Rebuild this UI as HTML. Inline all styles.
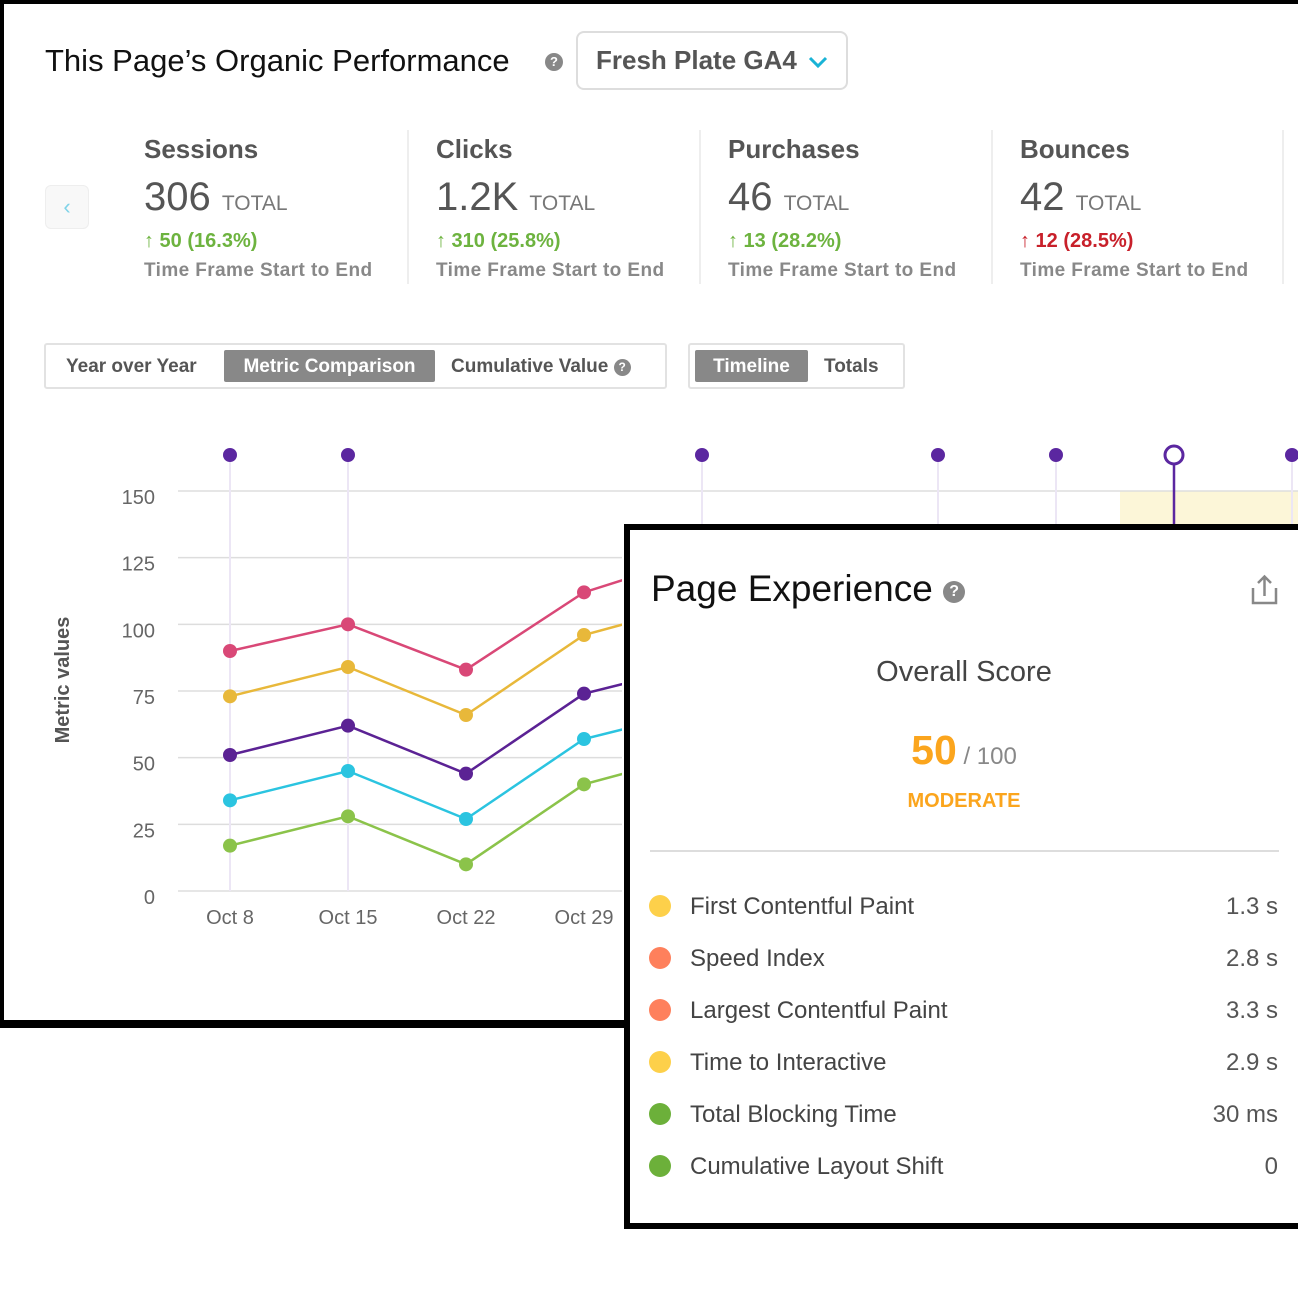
<!DOCTYPE html>
<html><head><meta charset="utf-8">
<style>
*{box-sizing:border-box;margin:0;padding:0}
body{width:1298px;height:1298px;background:#fff;position:relative;overflow:hidden;font-family:"Liberation Sans",sans-serif}
.abs{position:absolute;white-space:nowrap}
.kpi-title{font-size:26px;font-weight:bold;color:#555}
.kpi-num{font-size:40px;color:#555}
.kpi-num span{font-size:21px;color:#777}
.kpi-delta{font-size:20px;font-weight:bold;color:#6db33f}
.kpi-sub{font-size:19px;font-weight:bold;color:#888;letter-spacing:0.4px}
.sep{position:absolute;top:130px;width:2px;height:154px;background:#eee}
.row-label{font-size:24px;color:#444}
.row-val{font-size:24px;color:#555;text-align:right}
.dot{position:absolute;width:22px;height:22px;border-radius:50%}
</style></head><body>
<div class="abs" style="left:0;top:0;width:1310px;height:1028px;border:4px solid #000;border-bottom-width:8px;border-right:none"></div>

<div class="abs" style="left:45px;top:43px;font-size:31px;color:#111">This Page’s Organic Performance</div>
<div class="abs" style="left:545px;top:53px;width:18px;height:18px;border-radius:50%;background:#888;color:#fff;font-size:13px;font-weight:bold;text-align:center;line-height:18px">?</div>
<div class="abs" style="left:576px;top:31px;width:272px;height:59px;border:2px solid #ddd;border-radius:8px;font-size:26px;font-weight:bold;color:#555;padding:12px 0 0 18px">Fresh Plate GA4 <svg width="20" height="14" style="margin-left:4px"><polyline points="2,3 10,11 18,3" fill="none" stroke="#19b3d6" stroke-width="3"/></svg></div>

<div class="abs" style="left:45px;top:185px;width:44px;height:44px;border:1px solid #eee;border-radius:6px;background:#f8f8f8;color:#7fd3e8;font-size:22px;text-align:center;line-height:42px">‹</div>

<div>
<div class="abs kpi-title" style="left:144px;top:134px">Sessions</div>
<div class="abs kpi-num" style="left:144px;top:175px">306 <span>TOTAL</span></div>
<div class="abs kpi-delta" style="left:144px;top:230px">↑ 50 (16.3%)</div>
<div class="abs kpi-sub" style="left:144px;top:260px">Time Frame Start to End</div></div>
<div class="sep" style="left:407px"></div>
<div>
<div class="abs kpi-title" style="left:436px;top:134px">Clicks</div>
<div class="abs kpi-num" style="left:436px;top:175px">1.2K <span>TOTAL</span></div>
<div class="abs kpi-delta" style="left:436px;top:230px">↑ 310 (25.8%)</div>
<div class="abs kpi-sub" style="left:436px;top:260px">Time Frame Start to End</div></div>
<div class="sep" style="left:699px"></div>
<div>
<div class="abs kpi-title" style="left:728px;top:134px">Purchases</div>
<div class="abs kpi-num" style="left:728px;top:175px">46 <span>TOTAL</span></div>
<div class="abs kpi-delta" style="left:728px;top:230px">↑ 13 (28.2%)</div>
<div class="abs kpi-sub" style="left:728px;top:260px">Time Frame Start to End</div></div>
<div class="sep" style="left:991px"></div>
<div>
<div class="abs kpi-title" style="left:1020px;top:134px">Bounces</div>
<div class="abs kpi-num" style="left:1020px;top:175px">42 <span>TOTAL</span></div>
<div class="abs kpi-delta" style="left:1020px;top:230px;color:#c8202a">↑ 12 (28.5%)</div>
<div class="abs kpi-sub" style="left:1020px;top:260px">Time Frame Start to End</div></div>
<div class="sep" style="left:1282px"></div>

<div class="abs" style="left:44px;top:343px;width:623px;height:46px;border:2px solid #e2e2e2;border-radius:3px"></div>
<div class="abs" style="left:66px;top:356px;font-size:19px;font-weight:bold;color:#555">Year over Year</div>
<div class="abs" style="left:224px;top:350px;width:211px;height:32px;background:#888;border-radius:2px;color:#fff;font-size:19px;font-weight:bold;text-align:center;line-height:34px">Metric Comparison</div>
<div class="abs" style="left:451px;top:356px;font-size:19px;font-weight:bold;color:#555">Cumulative Value <span style="display:inline-block;width:17px;height:17px;border-radius:50%;background:#888;color:#fff;font-size:12px;text-align:center;line-height:17px;vertical-align:1px">?</span></div>
<div class="abs" style="left:688px;top:343px;width:217px;height:46px;border:2px solid #e2e2e2;border-radius:3px"></div>
<div class="abs" style="left:695px;top:350px;width:113px;height:32px;background:#888;border-radius:2px;color:#fff;font-size:19px;font-weight:bold;text-align:center;line-height:34px">Timeline</div>
<div class="abs" style="left:824px;top:356px;font-size:19px;font-weight:bold;color:#555">Totals</div>

<svg id="chart" class="abs" style="left:0;top:420px" width="622" height="598" viewBox="0 420 622 598"></svg>
<svg id="events" class="abs" style="left:622px;top:420px" width="676" height="110" viewBox="622 420 676 110"></svg>

<div class="abs" style="left:624px;top:524px;width:700px;height:705px;border:6px solid #000;background:#fff"></div>
<div class="abs" style="left:651px;top:568px;font-size:37px;color:#111">Page Experience <span style="display:inline-block;width:22px;height:22px;border-radius:50%;background:#888;color:#fff;font-size:16px;font-weight:bold;text-align:center;line-height:22px;vertical-align:5px">?</span></div>
<svg class="abs" style="left:1250px;top:574px" width="30" height="32"><path d="M3 14 V29 H26 V14" fill="none" stroke="#888" stroke-width="2.5"/><path d="M14.5 22 V3 M8 9 L14.5 2.5 L21 9" fill="none" stroke="#888" stroke-width="2.5"/></svg>
<div class="abs" style="left:650px;width:628px;top:656px;text-align:center;font-size:29px;color:#444">Overall Score</div>
<div class="abs" style="left:650px;width:628px;top:727px;text-align:center;color:#888;font-size:24px"><b style="font-size:41px;color:#fba51d">50</b> / 100</div>
<div class="abs" style="left:650px;width:628px;top:790px;text-align:center;color:#fba51d;font-size:20px;font-weight:bold">MODERATE</div>
<div class="abs" style="left:650px;top:850px;width:629px;height:2px;background:#ddd"></div>

<div id="rows"></div>

<script>
// ---- chart data ----
const categories = ["Oct 8","Oct 15","Oct 22","Oct 29","Nov 5"];
const yTicks = [0,25,50,75,100,125,150];
const pinkSeries = [90,100,83,112,126];
const yellowSeries = [73,84,66,96,108];
const purpleSeries = [51,62,44,74,85];
const cyanSeries = [34,45,27,57,68];
const greenSeries = [17,28,10,40,52];
const eventIndex = [0,1,4,6,7,8,9];
const selectedEvent = 8;

const NS="http://www.w3.org/2000/svg";
const xS=i=>230+i*118;
const yS=v=>891-v*(400/150);
function mk(svg,tag,attrs){const e=document.createElementNS(NS,tag);for(const k in attrs)e.setAttribute(k,attrs[k]);svg.appendChild(e);return e;}
const chart=document.getElementById('chart');
const ev=document.getElementById('events');

let band=mk(ev,'rect',{x:1120,y:yS(150),width:190,height:60,fill:'#fcf6d8'});



yTicks.forEach(t=>{
  let l=mk(chart,'line',{x1:178,x2:622,y1:yS(t),y2:yS(t),stroke:'#ddd','stroke-width':1.5});
  
  
  let l2=mk(ev,'line',{x1:622,x2:1298,y1:yS(t),y2:yS(t),stroke:'#ddd','stroke-width':1.5});
  
  
  let tx=mk(chart,'text',{x:155,y:yS(t)+13,'text-anchor':'end','font-size':20,fill:'#666','font-family':'Liberation Sans, sans-serif'});
  tx.textContent=t;
  
  
});
categories.forEach((c,i)=>{
  let tx=mk(chart,'text',{x:xS(i),y:924,'text-anchor':'middle','font-size':20,fill:'#666','font-family':'Liberation Sans, sans-serif'});
  tx.textContent=c;
  
  
});
let yt=mk(chart,'text',{x:0,y:0,transform:'translate(69,680) rotate(-90)','text-anchor':'middle','font-size':20,'font-weight':'bold',fill:'#555','font-family':'Liberation Sans, sans-serif'});
yt.textContent='Metric values';



eventIndex.forEach(k=>{
  const x=xS(k);
  const sel=k===selectedEvent;
  [chart,ev].forEach(s=>{
    let l=mk(s,'line',{x1:x,x2:x,y1:455,y2:sel?530:891,stroke:sel?'#5b27a0':'#ece6f5','stroke-width':sel?2.5:2});
    
    
    let c=mk(s,'circle',{cx:x,cy:455,r:sel?9:7,fill:sel?'#fff':'#5b27a0',stroke:'#5b27a0','stroke-width':sel?3:0});
    
    
  });
});

const series=[[pinkSeries,'#d94877','pink'],[yellowSeries,'#e8b83a','yellow'],[purpleSeries,'#5b2294','purple'],[cyanSeries,'#2bc4e0','cyan'],[greenSeries,'#8bc34a','green']];
series.forEach(([vals,col,nm])=>{
  let p=mk(chart,'polyline',{points:vals.map((v,i)=>xS(i)+','+yS(v)).join(' '),fill:'none',stroke:col,'stroke-width':2.5});
  
  
  vals.forEach((v,i)=>{
    let c=mk(chart,'circle',{cx:xS(i),cy:yS(v),r:7,fill:col});
    
    
  });
});

const metricNames=["First Contentful Paint","Speed Index","Largest Contentful Paint","Time to Interactive","Total Blocking Time","Cumulative Layout Shift"];
const metricValues=["1.3 s","2.8 s","3.3 s","2.9 s","30 ms","0"];
const metricColors=["#fdd04a","#fe805c","#fe805c","#fdd04a","#6cb03a","#6cb03a"];
const rows=document.getElementById('rows');
metricNames.forEach((n,i)=>{
  const y=906+i*52;
  const d=document.createElement('div');d.className='dot';d.style.left='649px';d.style.top=(y-11)+'px';d.style.background=metricColors[i];
  
  
  rows.appendChild(d);
  const l=document.createElement('div');l.className='abs row-label';l.style.left='690px';l.style.top=(y-13)+'px';l.textContent=n;
  
  
  rows.appendChild(l);
  const v=document.createElement('div');v.className='abs row-val';v.style.right='20px';v.style.top=(y-13)+'px';v.textContent=metricValues[i];
  
  
  rows.appendChild(v);
});
</script>
</body></html>
